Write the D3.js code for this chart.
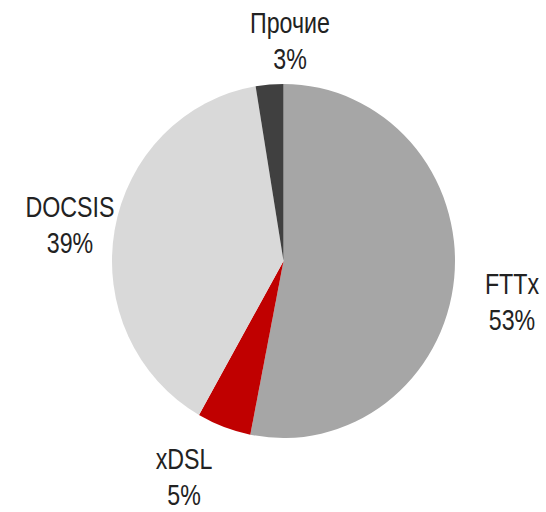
<!DOCTYPE html>
<html>
<head>
<meta charset="utf-8">
<script src="https://cdn.jsdelivr.net/npm/d3@7"></script>
<style>
  body { margin: 0; background: #fff; }
  text { font-family: "Liberation Sans Narrow", "Arial Narrow", "Liberation Sans", Arial, sans-serif; fill: #222; }
</style>
</head>
<body>
<script>
var svgWidth = 546;
var svgHeight = 512;

// data (share of connections, %)
var categories = ["FTTx", "xDSL", "DOCSIS", "Прочие"];
var shares = [53.1, 5.1, 39.2, 2.6];
var colors = ["#a6a6a6", "#c00000", "#d9d9d9", "#404040"];

// label anchor (middle of the two text lines), in pixels
var labelPos = [[512, 312], [184, 487], [70, 235], [290, 51]];

var center = {x: 283.5, y: 261};
var radius = 171.5;
var stretchY = 1.032;

var svg = d3.select("body")
            .append("svg")
            .attr("width", svgWidth)
            .attr("height", svgHeight);

var data = categories.map((c, i) => ({name: c, value: shares[i], color: colors[i], pos: labelPos[i]}));

var pie = d3.pie()
            .sort(null)
            .value(d => d.value);

var arc = d3.arc()
            .innerRadius(0)
            .outerRadius(radius);

var pieGroup = svg.append("g")
                  .attr("transform", `translate(${center.x}, ${center.y}) scale(1, ${stretchY})`);

pieGroup.selectAll("path")
        .data(pie(data))
        .enter()
        .append("path")
        .attr("d", arc)
        .attr("fill", d => d.data.color);

// narrow font is not installed, so squeeze the regular one
var narrow = 0.8;

// labels: name on first line, rounded percent on second
var labels = svg.selectAll("text.label")
                .data(data)
                .enter()
                .append("text")
                .classed("label", true)
                .attr("text-anchor", "middle")
                .attr("font-size", "29px")
                .attr("transform", d => `translate(${d.pos[0]}, ${d.pos[1]}) scale(${narrow}, 1)`);

labels.append("tspan")
      .attr("x", 0)
      .attr("y", -18)
      .text(d => d.name);

labels.append("tspan")
      .attr("x", 0)
      .attr("y", 18)
      .text(d => Math.round(d.value) + "%");
</script>
</body>
</html>
